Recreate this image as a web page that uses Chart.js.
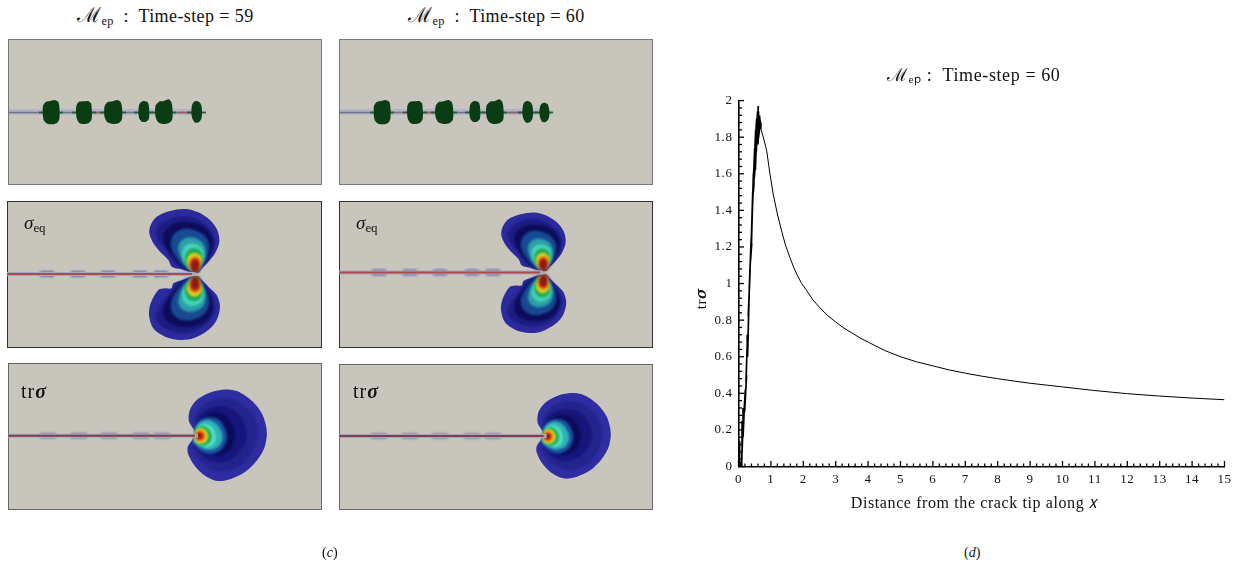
<!DOCTYPE html>
<html><head><meta charset="utf-8">
<script src="https://cdn.jsdelivr.net/npm/chart.js@4"></script>
<style>
html,body{margin:0;padding:0;background:#fff;width:1236px;height:567px;overflow:hidden}
canvas{position:absolute}
.panel{background:#c8c5bd;filter:blur(.55px)}
.soft{filter:blur(1.05px)}
.crisp{filter:blur(.55px)}
.t{position:absolute;z-index:5;font-family:"Liberation Serif",serif;color:#111;white-space:pre;line-height:1}
.t sub{font-size:.68em;line-height:0;vertical-align:-.25em}
.cap{font-size:18px;letter-spacing:.4px}
.cap span{font-size:1.15em}
.tr{font-size:20px;letter-spacing:1px}
</style></head><body>
<div class="t cap" style="left:77px;top:5px"><span>ℳ</span><sub>ep</sub>  :  Time-step = 59</div>
<div class="t cap" style="left:408px;top:5px"><span>ℳ</span><sub>ep</sub>  :  Time-step = 60</div>
<div class="t" style="left:24px;top:213px;font-size:19px"><i>σ</i><sub>eq</sub></div>
<div class="t" style="left:356px;top:213px;font-size:19px"><i>σ</i><sub>eq</sub></div>
<div class="t tr" style="left:21px;top:381px">tr<b><i>σ</i></b></div>
<div class="t tr" style="left:353px;top:381px">tr<b><i>σ</i></b></div>
<div class="t" style="left:322px;top:546px;font-size:14px">(<i>c</i>)</div>
<div class="t" style="left:964px;top:546px;font-size:14px">(<i>d</i>)</div>
<script>
// ---------- Line plot (d): distance from the crack tip vs tr sigma ----------
const distance = [0.02,0.03,0.04,0.08,0.1,0.13,0.11,0.16,0.14,0.19,0.16,0.21,0.19,0.25,0.23,0.28,0.27,0.3,0.28,0.33,0.3,0.36,0.33,0.39,0.36,0.41,0.38,0.44,0.4,0.46,0.41,0.47,0.43,0.49,0.44,0.5,0.46,0.52,0.47,0.53,0.49,0.55,0.5,0.56,0.52,0.58,0.53,0.59,0.55,0.61,0.57,0.62,0.58,0.64,0.6,0.65,0.62,0.67,0.69,0.78,0.87,0.97,1.07,1.2,1.33,1.45,1.59,1.7,1.8,1.95,2.1,2.3,2.5,2.75,3,3.25,3.5,3.75,4,4.5,5,5.5,6,6.5,7,7.5,8,8.5,9,9.5,10,10.5,11,12,13,14,15];
const trSigma  = [0,0.14,0.03,0,0.02,0.25,0.08,0.32,0.16,0.36,0.25,0.42,0.3,0.5,0.46,0.72,0.62,0.72,0.6,0.95,0.82,1.08,0.96,1.24,1.1,1.22,1.15,1.5,1.22,1.6,1.3,1.62,1.42,1.7,1.45,1.74,1.5,1.8,1.52,1.84,1.58,1.88,1.6,1.9,1.62,1.92,1.68,1.94,1.72,1.97,1.76,1.94,1.78,1.92,1.76,1.9,1.8,1.88,1.845,1.79,1.726,1.6,1.49,1.38,1.288,1.21,1.141,1.09,1.05,1,0.963,0.91,0.87,0.825,0.79,0.757,0.73,0.703,0.68,0.635,0.6,0.572,0.55,0.528,0.51,0.494,0.48,0.467,0.455,0.445,0.435,0.425,0.415,0.398,0.385,0.374,0.365];
const xTickStep = 0.2;
const yTickStep = 0.04;

// ---------- Field contours ----------
const sigmaColors = ['#2b2b9d','#1c1c82','#0c0c5a','#174a92','#2a9fa8','#46d2bc','#1fa852','#dcd222','#e88212','#c82412','#8a1c14'];
const sigmaUpper = [
 [176,203,186,190,205,170,225,145,238,110,232,75,210,45,175,22,135,12,90,18,50,35,32,60,28,85,40,115,60,140,85,165,95,185,125,193,155,202],
 [176,203,186,188,205,165,222,135,225,105,212,75,185,50,145,35,100,38,65,55,48,80,58,110,80,140,100,170,125,190,155,202],
 [176,203,184,188,200,165,215,135,218,105,200,72,165,55,125,52,92,62,70,88,75,120,95,150,118,178,155,202],
 [175,203,182,188,197,165,207,135,204,108,185,85,150,72,120,75,98,92,92,120,102,148,122,175,155,202],
 [175,203,182,188,194,165,197,140,190,116,172,102,148,97,126,105,115,125,119,150,133,178,155,201],
 [175,203,181,190,191,168,192,148,185,128,167,117,148,116,132,127,126,148,132,172,155,200],
 [175,203,180,190,188,172,188,155,181,138,166,130,150,132,137,148,136,172,155,200],
 [174,202,180,190,185,176,185,160,176,148,163,143,150,148,141,163,144,182,156,200],
 [174,202,179,190,183,178,182,165,172,155,160,155,150,163,147,180,157,200],
 [174,202,177,190,179,178,176,166,166,160,155,165,150,182,158,200],
 [172,200,176,188,176,175,170,168,160,168,154,184,162,200]
];
const sigmaLower = [
 [176,214,186,226,205,245,230,270,240,305,230,345,205,375,160,400,120,405,75,395,40,370,27,330,32,295,55,255,75,250,95,250,100,235,130,224,155,215],
 [176,214,186,228,205,253,222,283,225,313,212,343,185,368,145,383,100,380,65,363,48,338,58,308,80,278,100,248,125,228,155,215],
 [176,214,184,228,200,253,215,283,218,313,200,346,165,363,125,366,92,356,70,330,75,298,95,268,118,240,155,215],
 [175,214,182,228,197,253,207,283,204,310,185,333,150,346,120,343,98,326,92,298,102,270,122,243,155,215],
 [175,214,182,228,194,253,197,278,190,302,172,316,148,321,126,313,115,293,119,268,133,240,155,216],
 [175,214,181,226,191,250,192,270,185,290,167,301,148,302,132,291,126,270,132,246,155,217],
 [175,214,180,226,188,246,188,263,181,280,166,288,150,286,137,270,136,246,155,217],
 [174,215,180,226,185,242,185,258,176,270,163,275,150,270,141,255,144,236,156,217],
 [174,215,179,226,183,240,182,253,172,263,160,263,150,255,147,238,157,217],
 [174,215,177,226,179,240,176,252,166,258,155,253,150,236,158,217],
 [172,217,176,230,176,243,170,250,160,250,154,234,162,217]
];
const traceColors = ['#2e2ea2','#24248f','#15157c','#0b0b5a','#1a52a2','#30b2b2','#52e0c8','#1aa852','#dcd420','#e88010','#c82010','#8a1810'];
const traceRings = [
 [40,135,25,110,28,75,50,45,85,25,130,15,170,20,215,50,245,90,258,140,252,185,230,225,195,260,150,282,110,288,70,270,40,240,22,205,22,185,35,165,40,150],
 [42,140,40,100,70,60,120,40,170,50,215,90,232,140,222,190,190,235,140,260,95,255,55,225,35,190,42,165],
 [42,140,55,95,90,70,130,65,175,90,198,140,188,185,150,225,105,232,65,212,42,180],
 [42,140,58,105,90,85,130,90,155,120,162,155,150,190,115,212,75,205,45,180],
 [40,140,55,108,85,98,115,105,135,135,138,165,122,195,90,208,60,198,40,175],
 [38,145,52,118,78,105,105,115,122,140,125,165,110,188,82,195,55,185,38,168],
 [38,150,50,126,72,117,94,126,105,150,102,174,84,187,58,182,42,172],
 [38,152,48,131,65,123,84,133,93,152,88,172,68,183,48,174],
 [38,152,47,135,60,129,75,136,83,153,77,170,60,177,45,170],
 [42,152,50,139,62,136,73,146,74,158,68,167,55,170,45,164],
 [45,152,53,143,62,143,69,152,64,163,52,164],
 [48,152,55,146,63,151,58,159,50,158]
];
const blobOutlines = [
 [128,337,129,318,137,306,150,303,163,300,175,306,178,320,179,340,178,356,172,368,158,373,142,371,132,362,129,350],
 [228,337,229,318,236,306,250,304,264,303,273,310,275,325,276,345,274,360,265,370,250,372,237,368,230,355],
 [312,337,314,318,322,307,338,304,352,300,362,306,366,322,367,345,365,360,355,370,338,372,322,367,314,352],
 [415,335,417,316,423,306,433,303,443,307,447,320,448,345,446,358,438,365,427,366,419,358,416,348],
 [465,335,467,316,477,305,492,303,505,298,514,306,517,322,518,345,516,360,505,370,488,372,474,366,467,352],
 [574,335,576,316,581,306,590,303,600,308,605,320,606,342,604,356,596,367,585,368,578,358,575,348]
];
const extraBlob = [625,337,627,320,633,310,642,308,650,313,654,326,655,345,652,358,644,366,633,365,627,352];
const blobEdges = [31,55,64,88,92,118,126,145,143,168,179,198];
const extraEdges = [196,214];
const bumpCentres = [40,71,101,133,154];

function pts(a){const o=[];for(let i=0;i<a.length;i+=2)o.push({x:a[i],y:a[i+1]});o.push({x:a[0],y:a[1]});return o;}
function area(a,c,t){return {data:pts(a),borderWidth:0,backgroundColor:c,fill:'shape',pointRadius:0,tension:t===undefined?.3:t,xAxisID:'x',yAxisID:'y'};}
function seg(x0,x1,y,c,w){return {data:[{x:x0,y},{x:x1,y}],borderColor:c,borderWidth:w,pointRadius:0,fill:false,tension:0,xAxisID:'xp',yAxisID:'yp'};}

function layer(cls,left,top,w,h,range,layers,edge){
  const c=document.createElement('canvas');
  c.width=w;c.height=h;c.className=cls;
  c.style.left=left+'px';c.style.top=top+'px';
  if(edge){c.style.outline='1px solid '+edge;c.style.outlineOffset='-1px';}
  document.body.appendChild(c);
  new Chart(c,{type:'line',data:{datasets:layers.slice().reverse()},options:{
    responsive:false,animation:false,devicePixelRatio:1,events:[],
    layout:{padding:0},
    plugins:{legend:{display:false},tooltip:{enabled:false},title:{display:false}},
    scales:{
      x:{type:'linear',display:false,min:range[0],max:range[1]},
      y:{type:'linear',display:false,reverse:true,min:range[2],max:range[3]},
      xp:{type:'linear',display:false,min:0,max:w},
      yp:{type:'linear',display:false,reverse:true,min:0,max:h}
    }}});
}
function panel(left,top,w,h,range,base,soft,crisp,edge){
  layer('panel',left,top,w,h,range,base,edge);
  if(soft.length) layer('soft',left,top,w,h,range,soft);
  if(crisp.length) layer('crisp',left,top,w,h,range,crisp);
}
function sigmaBase(){return [area(sigmaUpper[0],sigmaColors[0]),area(sigmaLower[0],sigmaColors[0])];}
function sigmaSoft(tail){const l=[];for(let i=1;i<sigmaColors.length;i++){l.push(area(sigmaUpper[i],sigmaColors[i]));l.push(area(sigmaLower[i],sigmaColors[i]));}
  bumpCentres.forEach(b=>l.push(seg(b-7,b+7,tail,'#6473ae',6)));return l;}
function traceBase(){return [area(traceRings[0],traceColors[0])];}
function traceSoft(tail){const l=[];for(let i=1;i<traceColors.length;i++)l.push(area(traceRings[i],traceColors[i]));
  bumpCentres.forEach(b=>l.push(seg(b-8,b+8,tail,'#8f8cab',6)));return l;}
function crack(tipX,y,outer,inner){return [seg(0,tipX,y,outer,4),seg(0,tipX-3,y,inner,2)];}
function blobLayers(tip,extra){
  const l=[seg(0,tip,73,'#b3b4c6',6),seg(0,tip,73.5,'#6c7280',1.6),seg(85,96,73.5,'#9c5a60',1.6),seg(170,183,73.5,'#9c5a60',1.6)];
  const ed=extra?blobEdges.concat(extraEdges):blobEdges;
  for(let i=0;i<ed.length;i+=2) l.push(seg(ed[i],ed[i+1],73.5,'#2a5a3c',1.8));
  const list=extra?blobOutlines.concat([extraBlob]):blobOutlines;
  list.forEach(b=>l.push(area(b,'#0b3d14',.25)));
  return l;
}
// Row 1: dissipation zones
panel(8,39,314,146,[24,966,117,555],blobLayers(194,false),[],[],'#777');
panel(339,39,314,146,[24,966,117,555],blobLayers(212,true),[],[],'#777');
// Row 2: sigma_eq
panel(7,201,315,147,[-399,546,-12,429],sigmaBase(),sigmaSoft(73),crack(188,73,'#a6a9c0','#b04a4a'),'#333');
panel(339,201,314,147,[-501.2,522.7,-25.5,453.8],sigmaBase(),sigmaSoft(71.5),crack(204,71.5,'#a6a9c0','#b04a4a'),'#333');
// Row 3: tr sigma
panel(8,363,314,147,[-516,423,-64.5,375],traceBase(),traceSoft(72.7),crack(190,72.7,'#a7a5b5','#7d4050'),'#666');
panel(339,364,314,146,[-607.9,392.7,-77.8,388.2],traceBase(),traceSoft(72),crack(207.7,72,'#a7a5b5','#7d4050'),'#666');

// Inward tick marks placed by the chart's own scales
const inwardTicks={id:'inwardTicks',
 beforeDraw(ch){ch.ctx.letterSpacing='0.6px';},
 afterDatasetsDraw(ch){
  const ctx=ch.ctx,a=ch.chartArea;ctx.save();ctx.strokeStyle='#000';ctx.lineWidth=1.3;
  ch.scales.x.ticks.forEach(t=>{const p=ch.scales.x.getPixelForValue(t.value),m=Math.abs(t.value-Math.round(t.value))<1e-6;
    ctx.beginPath();ctx.moveTo(p,a.bottom);ctx.lineTo(p,a.bottom-(m?5.5:3));ctx.stroke();});
  ch.scales.y.ticks.forEach(t=>{const p=ch.scales.y.getPixelForValue(t.value),q=t.value/0.2,m=Math.abs(q-Math.round(q))<1e-6;
    ctx.beginPath();ctx.moveTo(a.left,p);ctx.lineTo(a.left+(m?5.5:3.5),p);ctx.stroke();});
  ctx.restore();}};

const main=document.createElement('canvas');
main.width=546;main.height=465;main.style.left='690px';main.style.top='55px';
document.body.appendChild(main);
const serif='"Liberation Serif",serif';
new Chart(main,{type:'line',plugins:[inwardTicks],
  data:{datasets:[{data:distance.map((x,i)=>({x,y:trSigma[i]})),borderColor:'#000',borderWidth:1,pointRadius:0,fill:false,tension:0,
    segment:{borderWidth:c=>c.p0.parsed.x<0.68?1.7:1}}]},
  options:{responsive:false,animation:false,devicePixelRatio:1,events:[],
    layout:{padding:{left:0,right:10.7,top:0,bottom:0}},
    plugins:{legend:{display:false},tooltip:{enabled:false},
      title:{display:true,fullSize:false,text:'ℳₑₚ :  Time-step = 60\u00a0\u00a0\u00a0',color:'#111',font:{family:serif,size:18,weight:'normal'},padding:{top:10,bottom:14}}},
    scales:{
      x:{type:'linear',min:0,max:15,
        afterFit(s){s.height=53.5;},
        grid:{drawOnChartArea:false,drawTicks:false},border:{display:true,color:'#000',width:1.6},
        ticks:{stepSize:xTickStep,autoSkip:false,maxRotation:0,padding:5,color:'#111',font:{family:serif,size:13},
          callback:v=>Math.abs(v-Math.round(v))<1e-6?String(Math.round(v)):''},
        title:{display:true,text:'Distance from the crack tip along 𝑥\u00a0\u00a0\u00a0',color:'#111',font:{family:serif,size:16},padding:{top:0,bottom:7}}},
      y:{type:'linear',min:0,max:2,
        afterFit(s){s.width=48.5;},
        grid:{drawOnChartArea:false,drawTicks:false},border:{display:true,color:'#000',width:1.6},
        ticks:{stepSize:yTickStep,autoSkip:false,padding:6,color:'#111',font:{family:serif,size:13},
          callback:v=>{const q=v/0.2;return Math.abs(q-Math.round(q))<1e-6?String(+v.toFixed(1)):'';}},
        title:{display:true,text:'tr𝝈\u00a0\u00a0\u00a0\u00a0\u00a0\u00a0\u00a0',color:'#111',font:{family:serif,size:15},padding:{top:3,bottom:0}}}
    }}});
</script></body></html>
